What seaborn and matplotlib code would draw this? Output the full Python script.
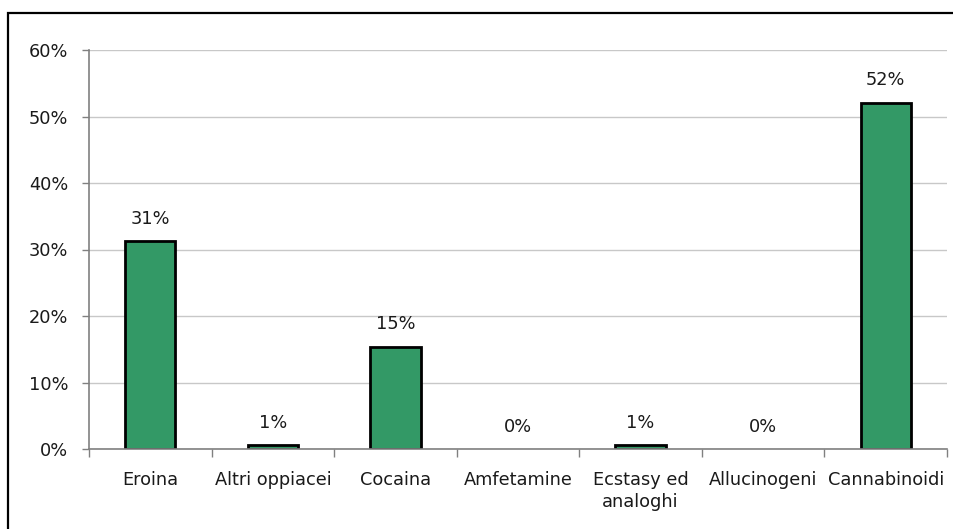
import numpy as np
import matplotlib
matplotlib.use("Agg")
import matplotlib.pyplot as plt
import seaborn as sns
from matplotlib.patches import Rectangle
from matplotlib.ticker import FixedLocator, FuncFormatter

# Share of subjects by primary substance (%)
substances = ["Eroina", "Altri oppiacei", "Cocaina", "Amfetamine",
              "Ecstasy ed\nanaloghi", "Allucinogeni", "Cannabinoidi"]
shares = [31.3, 0.6, 15.4, 0.0, 0.6, 0.0, 52.1]
y_ticks = [0, 10, 20, 30, 40, 50, 60]

sns.set_theme(style="white")
plt.rcParams["font.family"] = ["DejaVu Sans"]

fig = plt.figure(figsize=(9.54, 5.29), dpi=100)
ax = fig.add_axes([89 / 954, 1 - 449 / 529, (947 - 89) / 954, (449 - 50) / 529])

sns.barplot(x=list(range(len(substances))), y=shares, ax=ax, color="#339966",
            saturation=1, edgecolor="black", linewidth=2, width=0.41,
            native_scale=True, zorder=3)
# empty bars leave no outline on the axis
for bar in ax.patches:
    if bar.get_height() == 0:
        bar.set_linewidth(0)

ax.set_xlim(-0.5, len(substances) - 0.5)
ax.set_ylim(0, 60)

FS = 12.8
TXT = "#1a1a1a"

# value labels above each bar
for i, v in enumerate(shares):
    ax.annotate(f"{v:.0f}%", (i, v), xytext=(0, 16), textcoords="offset points",
                ha="center", va="center", fontsize=FS, color=TXT)

# y axis
ax.yaxis.set_major_locator(FixedLocator(y_ticks))
ax.yaxis.set_major_formatter(FuncFormatter(lambda v, _: f"{v:.0f}%"))
ax.grid(axis="y", color="#c8c8c8", linewidth=1, zorder=0)
ax.grid(axis="x", visible=False)

# x axis: ticks at category boundaries, labels at centres
ax.xaxis.set_major_locator(FixedLocator(np.arange(-0.5, len(substances), 1)))
ax.xaxis.set_major_formatter(FuncFormatter(lambda v, _: ""))
ax.xaxis.set_minor_locator(FixedLocator(range(len(substances))))
ax.set_xticklabels(substances, minor=True)
ax.tick_params(axis="x", which="minor", length=0, pad=16, labelsize=FS,
               labelcolor=TXT)
ax.tick_params(axis="x", which="major", length=6, width=1, color="#808080",
               direction="out", bottom=True)
ax.tick_params(axis="y", length=5, width=1, color="#808080", direction="out",
               left=True, pad=10, labelsize=FS, labelcolor=TXT)
for lab in ax.get_xticklabels(minor=True):
    lab.set_linespacing(1.25)
    lab.set_verticalalignment("top")

for side in ("top", "right"):
    ax.spines[side].set_visible(False)
for side in ("left", "bottom"):
    ax.spines[side].set_color("#808080")
    ax.spines[side].set_linewidth(1.2)
    ax.spines[side].set_zorder(4)
ax.set_xlabel("")
ax.set_ylabel("")

# chart frame (left and top edges fall inside the image)
top = 1 - 13 / 529
fig.patches.append(Rectangle((8 / 954, -0.2), 1.2, top + 0.2,
                             transform=fig.transFigure, fill=False,
                             edgecolor="black", linewidth=1.6, zorder=0))

fig.savefig("out.png", dpi=100, facecolor="white")
